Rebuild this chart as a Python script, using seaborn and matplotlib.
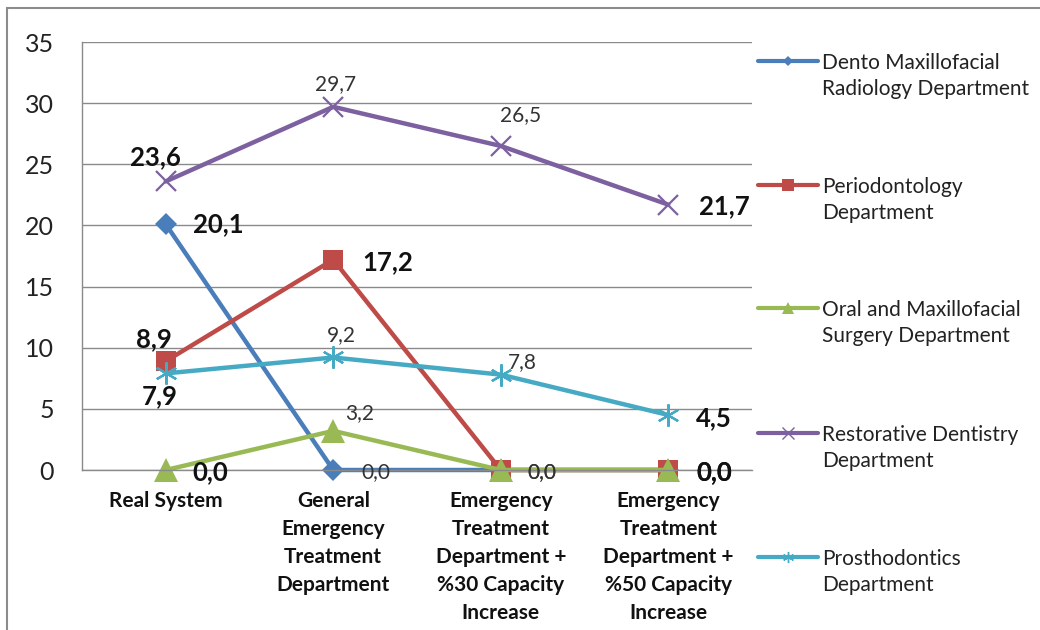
import matplotlib
matplotlib.use("Agg")
import matplotlib.pyplot as plt
from matplotlib.lines import Line2D
from matplotlib.patches import Rectangle
import seaborn as sns

# Data
categories = ["Real System",
              "General\nEmergency\nTreatment\nDepartment",
              "Emergency\nTreatment\nDepartment +\n%30 Capacity\nIncrease",
              "Emergency\nTreatment\nDepartment +\n%50 Capacity\nIncrease"]
dento = [20.1, 0.0, 0.0, 0.0]
perio = [8.9, 17.2, 0.0, 0.0]
oral = [0.0, 3.2, 0.0, 0.0]
restor = [23.6, 29.7, 26.5, 21.7]
prosth = [7.9, 9.2, 7.8, 4.5]
names = ["Dento Maxillofacial\nRadiology Department",
         "Periodontology\nDepartment",
         "Oral and Maxillofacial\nSurgery Department",
         "Restorative Dentistry\nDepartment",
         "Prosthodontics\nDepartment"]
yticks = [0, 5, 10, 15, 20, 25, 30, 35]

W, H = 1040, 630
sns.set_theme(style="white")
plt.rcParams['font.family'] = ['Lato', 'DejaVu Sans']

colors = ['#4A7EBB', '#BE4B48', '#98B954', '#7D60A0', '#46AAC5']
markers = ['D', 's', '^', 'x', (6, 2, 0)]
msizes = [11, 15, 17, 15, 16]
series = [dento, perio, oral, restor, prosth]

# label style per point: (dx px, dy px, ha, weight) or None
lab_style = [
    [(27, 0, 'left', 'bold'), (28, -2, 'left', 'normal'), None, None],
    [(-12, 22, 'center', 'bold'), (29, -2, 'left', 'bold'), (27, -2, 'left', 'normal'), (28, -2, 'left', 'bold')],
    [(27, -2, 'left', 'bold'), (12, 18, 'left', 'normal'), (27, -2, 'left', 'normal'), (28, -2, 'left', 'bold')],
    [(-10, 24, 'center', 'bold'), (2, 23, 'center', 'normal'), (20, 31, 'center', 'normal'), (31, -2, 'left', 'bold')],
    [(-6, -23, 'center', 'bold'), (8, 22, 'center', 'normal'), (7, 13, 'left', 'normal'), (28, -3, 'left', 'bold')],
]

fig = plt.figure(figsize=(W / 100, H / 100), dpi=100)
fig.patch.set_facecolor('white')
ax = fig.add_axes([82 / W, 1 - 470 / H, (752 - 82) / W, (470 - 42) / H])

for vals, c, m, ms in zip(series, colors, markers, msizes):
    line_art = m in ('x',) or isinstance(m, tuple)
    sns.lineplot(x=categories, y=vals, color=c, marker=m, markersize=ms,
                 linewidth=3.2, markeredgecolor=c,
                 markeredgewidth=1.6 if line_art else 0,
                 sort=False, errorbar=None, ax=ax, clip_on=False)

for vals, styles in zip(series, lab_style):
    for i, (v, st) in enumerate(zip(vals, styles)):
        if st is None:
            continue
        dx, dy, ha, wt = st
        ax.annotate(f"{v:.1f}".replace('.', ','), xy=(i, v), xytext=(dx, dy),
                    textcoords='offset pixels', ha=ha, va='center',
                    fontsize=18.5 if wt == 'bold' else 15, fontweight=wt,
                    color='#111111' if wt == 'bold' else '#333333')

ax.set_xlim(-0.5, 3.5)
ax.set_ylim(0, 35)
ax.set_yticks(yticks)
ax.set_yticklabels([str(t) for t in yticks], fontsize=18, color='#222222')
ax.tick_params(axis='y', length=0, pad=20)
ax.tick_params(axis='x', length=0, pad=15)
for t in ax.get_xticklabels():
    t.set_fontweight('bold')
    t.set_fontsize(15)
    t.set_linespacing(1.5)
    t.set_color('#111111')
ax.set_xlabel('')
ax.set_ylabel('')
ax.yaxis.grid(True, color='#8a8a8a', linewidth=1)
ax.set_axisbelow(True)
for s in ['top', 'right']:
    ax.spines[s].set_visible(False)
for s in ['left', 'bottom']:
    ax.spines[s].set_color('#8a8a8a')
    ax.spines[s].set_linewidth(1)
ax.set_facecolor('white')

# legend, drawn on the figure
leg_y = [61, 185, 308, 433, 557]
leg_ms = [5, 9, 8, 8, 8]
for name, c, m, ms, y in zip(names, colors, markers, leg_ms, leg_y):
    line_art = m in ('x',) or isinstance(m, tuple)
    fig.add_artist(Line2D([758 / W, 788 / W, 818 / W], [1 - y / H] * 3,
                          transform=fig.transFigure, color=c, linewidth=3,
                          marker=m, markevery=[1], markersize=ms,
                          markeredgecolor=c, markeredgewidth=1 if line_art else 0))
    fig.text(822 / W, 1 - (y + 15) / H, name, fontsize=15, va='center',
             ha='left', linespacing=1.4, color='#222222')

# outer chart border
fig.add_artist(Rectangle((7 / W, -0.05), 1.1, 1 - 8 / H + 0.05, transform=fig.transFigure,
                         fill=False, edgecolor='#8c8c8c', linewidth=1.5))

fig.savefig('out.png', dpi=100, facecolor='white')
